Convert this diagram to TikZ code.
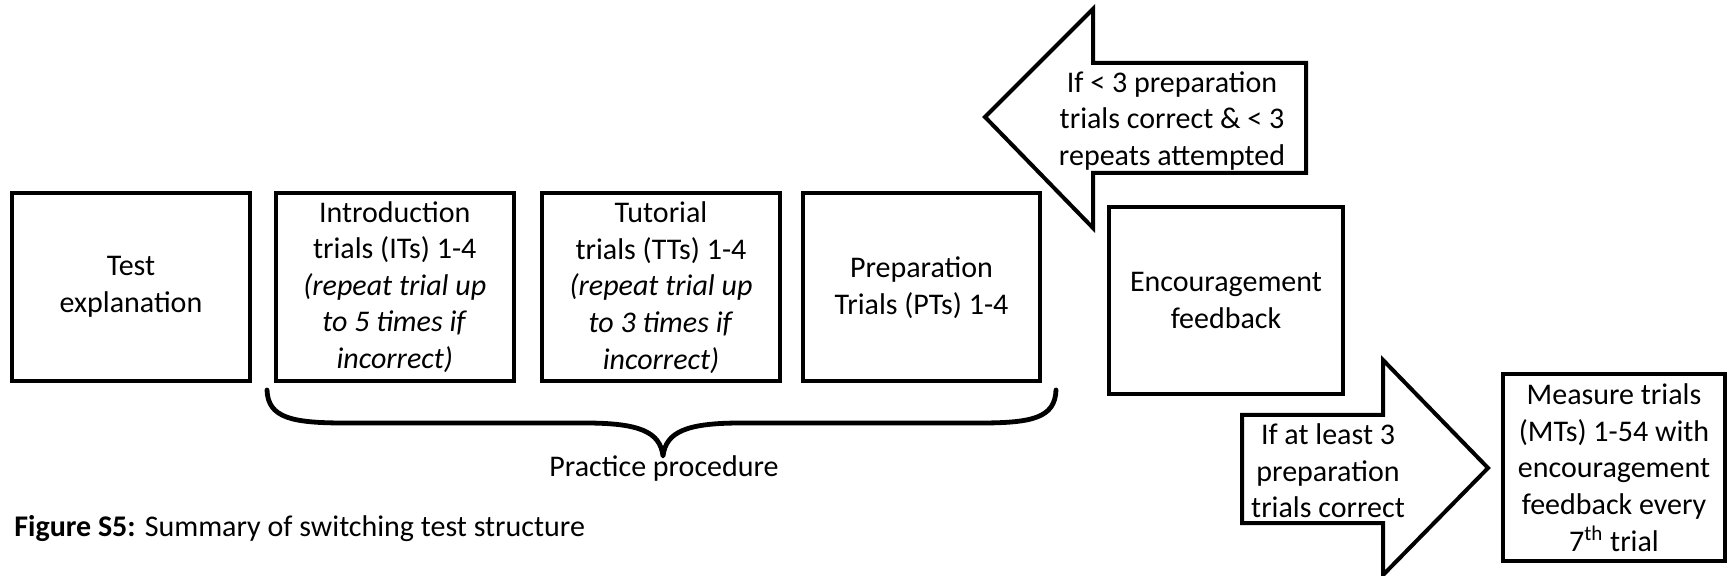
\documentclass[tikz,border=0pt]{standalone}
\usepackage{fontspec}
\setmainfont{Carlito}
\begin{document}
\begin{tikzpicture}[x=0.5pt,y=-0.5pt,
  box/.style={draw=black,line width=2pt,rectangle,inner sep=0pt,align=center,
    minimum height=94pt,font=\fontsize{15}{18.3}\selectfont},
  txt/.style={inner sep=0pt,align=center,font=\fontsize{15}{18.3}\selectfont},
  arrowshape/.style={draw=black,line width=2pt,line join=miter,fill=white}]
\useasboundingbox (0,0) rectangle (1727,576);
\node[box,minimum width=119pt] (test) at (131,287) {Test\\explanation};
\node[box,minimum width=119.25pt] (intro) at (394.75,287) {Introduction\\trials (ITs) 1-4\\\textit{(repeat trial up}\\\textit{to 5 times if}\\\textit{incorrect)}};
\node[box,minimum width=119pt] (tut) at (661,287.5) {Tutorial\\trials (TTs) 1-4\\\textit{(repeat trial up}\\\textit{to 3 times if}\\\textit{incorrect)}};
\node[box,minimum width=118.5pt] (prep) at (921.5,287.5) {Preparation\\Trials (PTs) 1-4};
\node[box,minimum width=117pt,minimum height=93.5pt] (enc) at (1226,300.5) {Encouragement\\feedback};
\node[box,minimum width=111pt,minimum height=93.5pt] (meas) at (1614,467.5) {Measure trials\\(MTs) 1-54 with\\encouragement\\feedback every\\7\textsuperscript{th} trial};
% left arrow
\draw[arrowshape] (985,117) -- (1093,9) -- (1093,63) -- (1306,63) -- (1306,173) -- (1093,173) -- (1093,228) -- cycle;
\node[txt] (back) at (1172,121) {If < 3 preparation\\trials correct \& < 3\\repeats attempted};
% right arrow
\draw[arrowshape] (1488,468) -- (1383,360) -- (1383,415) -- (1242,415) -- (1242,523) -- (1383,523) -- (1383,575) -- cycle;
\node[txt] (fwd) at (1328,471) {If at least 3\\preparation\\trials correct};
% brace
\draw[line width=2.4pt,line cap=round,line join=round]
  (267,390) .. controls (268,418) and (292,423) .. (345,423) -- (585,423)
  .. controls (640,423) and (660,432) .. (663,456)
  .. controls (666,432) and (686,423) .. (741,423) -- (980,423)
  .. controls (1032,423) and (1055,418) .. (1056,390);
\node[txt] (prac) at (664,469) {Practice procedure};
\node[anchor=west,inner sep=0pt,font=\fontsize{15}{18}\selectfont] (cap) at (14,529) {\textbf{Figure S5:} Summary of switching test structure};
\end{tikzpicture}
\end{document}
